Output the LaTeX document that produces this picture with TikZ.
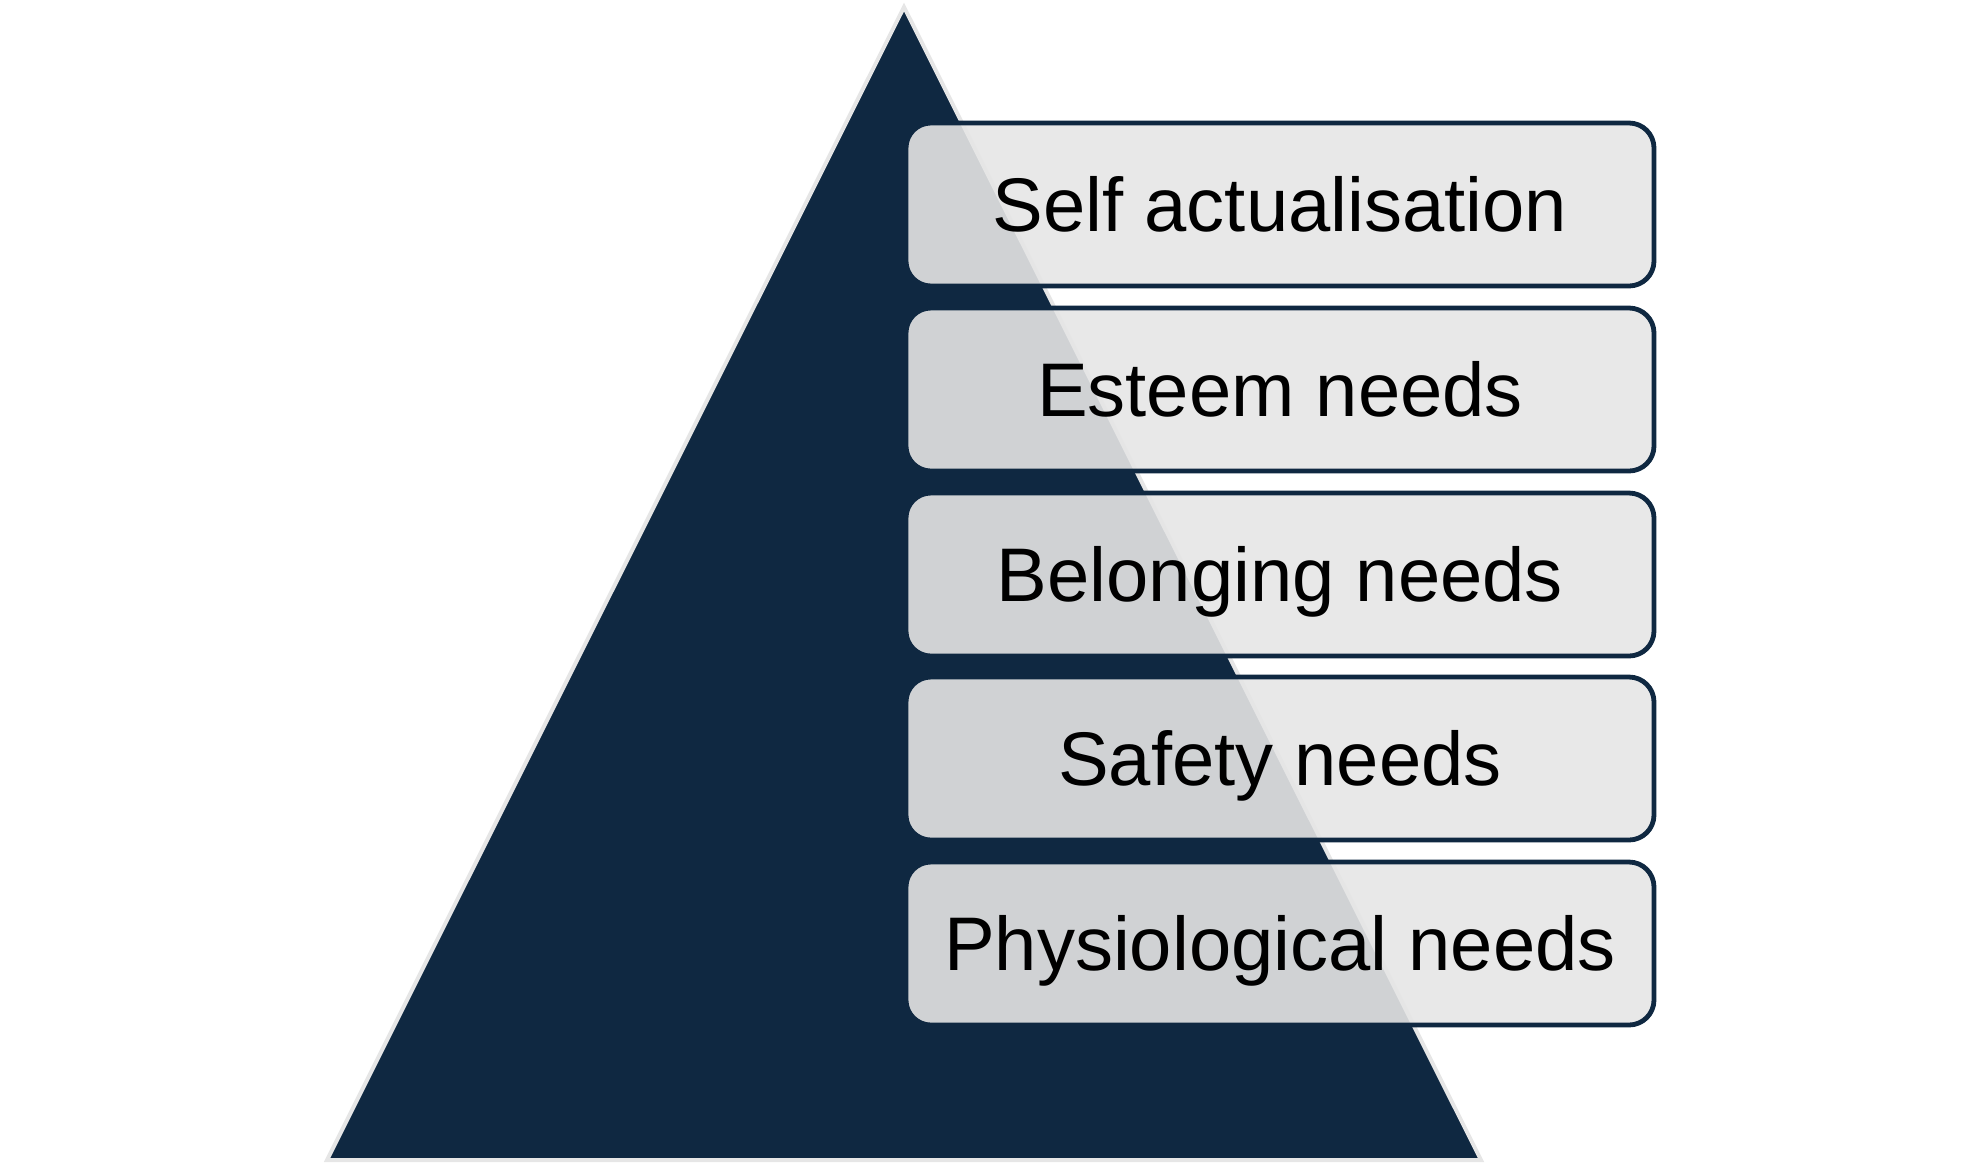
\documentclass[tikz,border=0pt]{standalone}
\usepackage{fontspec}
\setmainfont{Liberation Sans}
\definecolor{navy}{HTML}{0F2841}
\definecolor{edgegray}{HTML}{E6E6E6}
\definecolor{boxgray}{HTML}{E5E5E5}
\begin{document}
\begin{tikzpicture}[x=0.5pt,y=-0.5pt,
  tri/.style={fill=navy,draw=edgegray,line width=2pt,line join=miter},
  needbox/.style={draw=navy,line width=2.4pt,fill=boxgray,fill opacity=0.9,
    draw opacity=1,text opacity=1,rounded corners=12.5pt,
    minimum width=374pt,minimum height=81.5pt,inner sep=0pt,
    text height=27pt,text depth=0pt,text=black,
    font=\fontsize{38}{42}\selectfont}]
\useasboundingbox (0,0) rectangle (1980,1164);
\coordinate (apex) at (904,7);
\coordinate (bl) at (327,1160);
\coordinate (br) at (1481,1160);
\draw[tri] (apex) -- (bl) -- (br) -- cycle;
\node[needbox] (n1) at (1280,204.5) {Self actualisation};
\node[needbox] (n2) at (1280,389.5) {Esteem needs};
\node[needbox] (n3) at (1280,574.5) {Belonging needs};
\node[needbox] (n4) at (1280,758.5) {Safety needs};
\node[needbox] (n5) at (1280,943.5) {Physiological needs};
\end{tikzpicture}
\end{document}
